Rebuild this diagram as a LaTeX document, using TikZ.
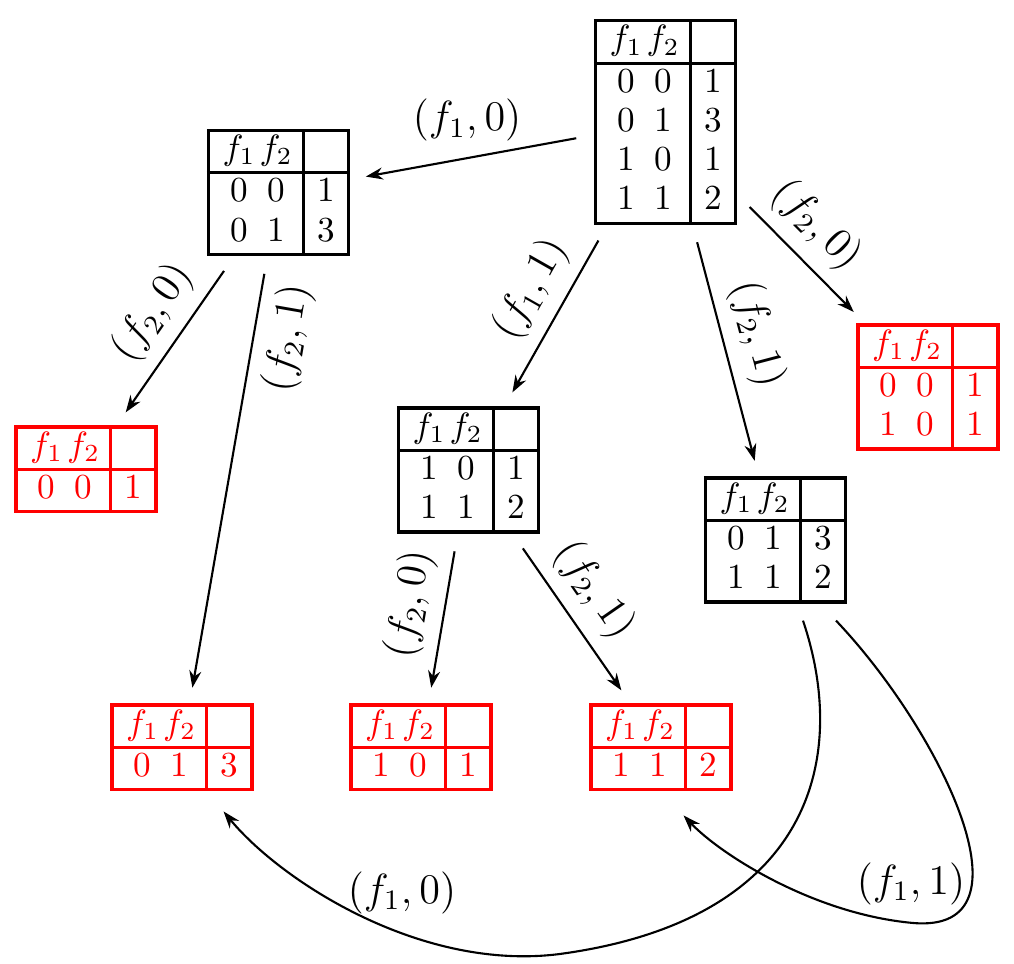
\documentclass[tikz,border=0pt]{standalone}
\usepackage{array}
\usetikzlibrary{arrows.meta}
\setlength{\arrayrulewidth}{0.9pt}
\renewcommand{\arraystretch}{0.93}
\newcolumntype{T}{|@{\hspace{3pt}}wc{10.5pt}@{}wc{10.5pt}@{\hspace{2pt}}|@{}wc{12pt}@{}|}
\newcommand{\hdr}{\hline $f_1$ & $f_2$ & \\ \hline}
\begin{document}
\begin{tikzpicture}[x=0.01cm,y=0.01cm,
  tbl/.style={inner sep=0pt, outer sep=0pt},
  redtbl/.style={tbl, text=red},
  conn/.style={-{Stealth[length=1.7mm,width=1.2mm]}, line width=0.6pt, shorten <=0.18cm, shorten >=0.16cm},
  curv/.style={-{Stealth[length=1.7mm,width=1.2mm]}, line width=0.6pt},
  lbl/.style={font=\large, inner sep=0.5pt},
  slbl/.style={font=\large, inner sep=3.5pt, sloped}]
\useasboundingbox (0,0) rectangle (1014,964);

\node[tbl] (T0) at (665.5,842) {\begin{tabular}{T}\hdr 0&0&1\\0&1&3\\1&0&1\\1&1&2\\\hline\end{tabular}};
\node[tbl] (T1) at (278.5,771.5) {\begin{tabular}{T}\hdr 0&0&1\\0&1&3\\\hline\end{tabular}};
\node[redtbl] (T2) at (928,577) {\begin{tabular}{T}\hdr 0&0&1\\1&0&1\\\hline\end{tabular}};
\node[redtbl] (T3) at (86,494.5) {\begin{tabular}{T}\hdr 0&0&1\\\hline\end{tabular}};
\node[tbl] (T4) at (468.5,494) {\begin{tabular}{T}\hdr 1&0&1\\1&1&2\\\hline\end{tabular}};
\node[tbl] (T5) at (775.5,424) {\begin{tabular}{T}\hdr 0&1&3\\1&1&2\\\hline\end{tabular}};
\node[redtbl] (T6) at (182,216.5) {\begin{tabular}{T}\hdr 0&1&3\\\hline\end{tabular}};
\node[redtbl] (T7) at (421,216.5) {\begin{tabular}{T}\hdr 1&0&1\\\hline\end{tabular}};
\node[redtbl] (T8) at (661,216.5) {\begin{tabular}{T}\hdr 1&1&2\\\hline\end{tabular}};

\draw[conn] (T0) -- node[lbl, above=4pt, pos=0.52] {$(f_1,0)$} (T1);
\draw[conn] (T0) -- node[slbl, above, pos=0.43] {$(f_2,0)$} (T2);
\draw[conn] (T0) -- node[slbl, above, pos=0.45] {$(f_1,1)$} (T4);
\draw[conn] (T0) -- node[slbl, above, pos=0.47] {$(f_2,1)$} (T5);
\draw[conn] (T1) -- node[slbl, above, pos=0.45] {$(f_2,0)$} (T3);
\draw[conn] (T1) -- node[slbl, below, pos=0.17] {$(f_2,1)$} (T6);
\draw[conn] (T4) -- node[slbl, above, pos=0.45] {$(f_2,0)$} (T7);
\draw[conn] (T4) -- node[slbl, above, pos=0.45] {$(f_2,1)$} (T8);

\coordinate (s9) at ([shift={(27.5,-17)}]T5.south);
\coordinate (s10) at ([shift={(60.5,-17)}]T5.south);
\coordinate (e9) at ([shift={(-30,-20)}]T6.south east);
\coordinate (e10) at ([shift={(-49,-24)}]T8.south east);
\draw[curv] (s9) .. controls (850,204) and (810,44) .. (560,10) .. controls (420,-8) and (280,84) .. (e9);
\draw[curv] (s10) .. controls (940,234) and (1040,30) .. (913,41) .. controls (813,50) and (720,110) .. (e10);
\node[lbl] (L9) at (402,71) {$(f_1,0)$};
\node[lbl] (L10) at (911,80) {$(f_1,1)$};
\end{tikzpicture}
\end{document}
